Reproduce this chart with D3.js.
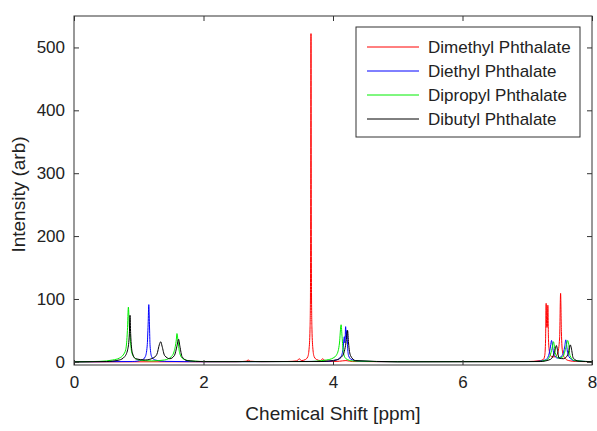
<!DOCTYPE html>
<html>
<head>
<meta charset="utf-8">
<script src="https://cdn.jsdelivr.net/npm/d3@7"></script>
<style>
  html, body { margin: 0; padding: 0; background: #fff; }
  svg { display: block; }
  text { font-family: "Liberation Sans", Arial, Helvetica, sans-serif; fill: #222; }
</style>
</head>
<body>
<svg id="chart" width="597" height="431"></svg>
<script>
// ---- data ----
const seriesNames = ["Dimethyl Phthalate", "Diethyl Phthalate", "Dipropyl Phthalate", "Dibutyl Phthalate"];
const seriesColors = ["#ff0000", "#0000ff", "#00ee00", "#000000"];
const xTicks = [0, 2, 4, 6, 8];
const yTicks = [0, 100, 200, 300, 400, 500];
const xLabel = "Chemical Shift [ppm]";
const yLabel = "Intensity (arb)";

// [ppm, intensity]
const dimethyl = [[0,0],[2.5,0.2],[2.66,1],[2.69,3],[2.72,1],[2.9,0.3],[3.3,0.6],[3.44,1.5],[3.48,5],[3.51,2],[3.57,3.5],[3.61,8],[3.63,20],[3.645,52],[3.652,110],[3.656,260],[3.66,522],[3.664,260],[3.668,110],[3.675,52],[3.69,20],[3.71,8],[3.75,3.5],[3.81,2],[3.84,5],[3.88,1.5],[4.0,0.6],[4.1,1],[4.2,2],[4.3,0.5],[5,0.2],[7.0,0.5],[7.2,2],[7.25,4],[7.27,10],[7.283,35],[7.292,93],[7.30,55],[7.31,55],[7.318,90],[7.328,35],[7.345,15],[7.38,8],[7.43,8],[7.47,14],[7.5,38],[7.515,109],[7.527,48],[7.545,16],[7.58,6],[7.64,2],[7.75,0.6],[8,0.2]];
const diethyl = [[0,0],[0.9,0.5],[1.05,3],[1.1,8],[1.13,25],[1.145,60],[1.155,91],[1.165,60],[1.175,25],[1.2,8],[1.25,3],[1.4,0.8],[2,0.2],[3.9,0.8],[4.05,3],[4.12,8],[4.155,20],[4.175,40],[4.185,30],[4.195,56],[4.205,38],[4.215,50],[4.225,25],[4.24,10],[4.28,4],[4.4,1],[5,0.2],[7.1,0.5],[7.28,3],[7.33,10],[7.36,25],[7.375,34],[7.385,30],[7.395,22],[7.42,10],[7.47,6],[7.54,10],[7.58,25],[7.595,35],[7.605,30],[7.615,20],[7.645,8],[7.72,2],[8,0.3]];
const dipropyl = [[0,0],[0.4,0.8],[0.6,3],[0.7,6],[0.76,11],[0.8,20],[0.825,50],[0.84,87],[0.855,55],[0.87,35],[0.89,16],[0.93,7],[1.0,3],[1.2,1.5],[1.4,3],[1.5,8],[1.55,18],[1.58,35],[1.59,45],[1.605,35],[1.63,15],[1.68,5],[1.8,1.5],[2.1,0.4],[3.6,0.5],[3.9,3],[4.0,6],[4.06,12],[4.1,30],[4.125,59],[4.14,40],[4.16,15],[4.2,5],[4.3,1.5],[5,0.2],[7.15,0.5],[7.3,3],[7.36,12],[7.39,25],[7.405,32],[7.415,28],[7.43,15],[7.48,6],[7.55,8],[7.595,22],[7.625,34],[7.64,28],[7.66,10],[7.73,2],[8,0.3]];
const dibutyl = [[0,0],[0.5,0.5],[0.7,3],[0.78,8],[0.83,20],[0.855,45],[0.865,74],[0.875,45],[0.9,15],[0.95,5],[1.1,3],[1.22,6],[1.28,12],[1.32,28],[1.34,32],[1.36,25],[1.4,10],[1.48,5],[1.55,10],[1.59,25],[1.615,36],[1.635,25],[1.67,8],[1.75,2],[2.0,0.4],[3.8,0.5],[4.05,3],[4.15,10],[4.2,30],[4.225,50],[4.24,30],[4.27,10],[4.35,2],[5,0.2],[7.2,0.5],[7.36,4],[7.42,15],[7.45,26],[7.465,20],[7.49,6],[7.56,5],[7.63,12],[7.665,27],[7.68,22],[7.71,6],[7.8,1],[8,0.3]];
const allSeries = [dimethyl, diethyl, dipropyl, dibutyl];

// ---- layout ----
const svg = d3.select("#chart");
const L = 74, R = 592, T = 16, B = 365;
const x = d3.scaleLinear().domain([0, 8]).range([L, R]);
const y = d3.scaleLinear().domain([-5, 550]).range([B, T]);

svg.append("defs").append("clipPath").attr("id", "clip")
  .append("rect").attr("x", L).attr("y", T).attr("width", R - L).attr("height", B - T);

const line = d3.line().x(d => x(d[0])).y(d => y(d[1])).curve(d3.curveMonotoneX);
const plot = svg.append("g").attr("clip-path", "url(#clip)");
allSeries.forEach((s, i) => {
  plot.append("path").datum(s).attr("d", line)
    .attr("fill", "none").attr("stroke", seriesColors[i]).attr("stroke-width", 1);
});

// axes (inward ticks, mirrored)
const tickLen = 5;
const axStyle = g => {
  g.select(".domain").remove();
  g.selectAll(".tick line").attr("stroke", "#333");
  g.selectAll(".tick text").style("font-size", "17px").attr("fill", "#222");
};
svg.append("g").attr("transform", `translate(0,${B})`)
  .call(d3.axisBottom(x).tickValues(xTicks).tickSize(-tickLen).tickPadding(11).tickFormat(d3.format("d")))
  .call(axStyle);
svg.append("g").attr("transform", `translate(0,${T})`)
  .call(d3.axisTop(x).tickValues(xTicks).tickSize(-tickLen).tickFormat(""))
  .call(axStyle);
svg.append("g").attr("transform", `translate(${L},0)`)
  .call(d3.axisLeft(y).tickValues(yTicks).tickSize(-tickLen).tickPadding(9).tickFormat(d3.format("d")))
  .call(axStyle);
svg.append("g").attr("transform", `translate(${R},0)`)
  .call(d3.axisRight(y).tickValues(yTicks).tickSize(-tickLen).tickFormat(""))
  .call(axStyle);

svg.append("rect").attr("x", L).attr("y", T).attr("width", R - L).attr("height", B - T)
  .attr("fill", "none").attr("stroke", "#333").attr("stroke-width", 1);

// axis titles
svg.append("text").attr("x", (L + R) / 2).attr("y", 420).attr("text-anchor", "middle")
  .style("font-size", "19px").text(xLabel);
svg.append("text").attr("transform", `translate(25,${(T + B) / 2 + 4}) rotate(-90)`)
  .attr("text-anchor", "middle").style("font-size", "19px").text(yLabel);

// legend
const lg = svg.append("g");
lg.append("rect").attr("x", 356).attr("y", 27).attr("width", 224).attr("height", 110)
  .attr("fill", "#fff").attr("stroke", "#333").attr("stroke-width", 1);
seriesNames.forEach((n, i) => {
  const cy = 47 + i * 24;
  lg.append("line").attr("x1", 367).attr("x2", 419).attr("y1", cy).attr("y2", cy)
    .attr("stroke", seriesColors[i]).attr("stroke-width", 1);
  lg.append("text").attr("x", 428).attr("y", cy).attr("dy", "0.35em")
    .style("font-size", "17px").text(n);
});
</script>
</body>
</html>
